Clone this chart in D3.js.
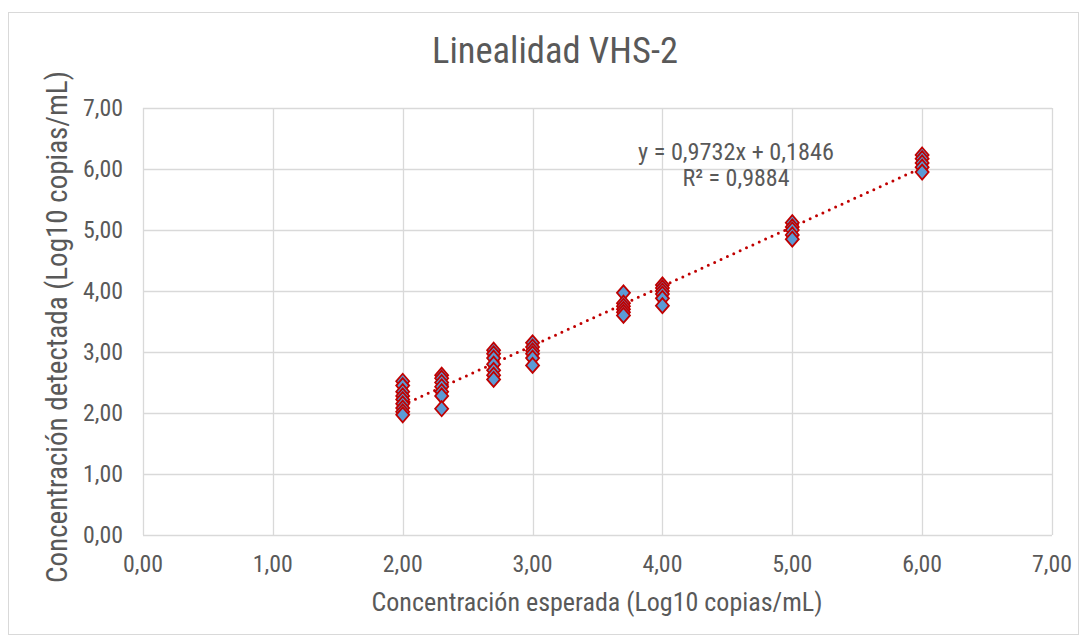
<!DOCTYPE html>
<html><head><meta charset="utf-8">
<script src="https://cdn.jsdelivr.net/npm/d3@7"></script>
<style>body{margin:0;background:#fff;} svg{display:block;} text{font-family:"Liberation Sans Narrow","Arial Narrow","Roboto Condensed",sans-serif;}</style>
</head><body><svg id="c" width="1088" height="641"></svg>
<script>
const title = "Linealidad VHS-2";
const xLabel = "Concentración esperada (Log10 copias/mL)";
const yLabel = "Concentración detectada (Log10 copias/mL)";
const xTicks = [0,1,2,3,4,5,6,7];
const yTicks = [0,1,2,3,4,5,6,7];
const groupX = [2.0, 2.3, 2.7, 3.0, 3.7, 4.0, 5.0, 6.0];
const groupY = [
  [2.52, 2.45, 2.35, 2.28, 2.22, 2.15, 2.08, 2.02, 1.97],
  [2.62, 2.57, 2.50, 2.43, 2.35, 2.28, 2.07],
  [3.03, 2.97, 2.90, 2.80, 2.70, 2.62, 2.55],
  [3.15, 3.08, 3.02, 2.97, 2.90, 2.78],
  [3.97, 3.80, 3.75, 3.70, 3.65, 3.60],
  [4.10, 4.05, 4.00, 3.95, 3.88, 3.76],
  [5.12, 5.05, 5.00, 4.92, 4.85],
  [6.23, 6.17, 6.10, 6.03, 5.95]
];
const slope = 0.9732, intercept = 0.1846;
const eqText = "y = 0,9732x + 0,1846";
const r2Text = "R² = 0,9884";

const points = [];
groupX.forEach((x,i)=>groupY[i].forEach(y=>points.push({x,y})));

const svg = d3.select("#c");
const fmt = d => d.toFixed(2).replace(".", ",");
function fit(sel, w){ sel.each(function(){ const n=this; const fs=+n.getAttribute("font-size"); const L=n.getComputedTextLength(); if(L>0) n.setAttribute("font-size", (fs*w/L).toFixed(2)); }); }

svg.append("rect").attr("x",8.5).attr("y",12.5).attr("width",1070).attr("height",622)
  .attr("fill","#fff").attr("stroke","#d9d9d9");

const x = d3.scaleLinear().domain([0,7]).range([143,1052]);
const y = d3.scaleLinear().domain([0,7]).range([535,108]);

const g = svg.append("g");
g.selectAll(".vg").data(xTicks).join("line").attr("x1",d=>Math.round(x(d))+0.5).attr("x2",d=>Math.round(x(d))+0.5)
  .attr("y1",y(0)).attr("y2",y(7)).attr("stroke","#d9d9d9").attr("stroke-width",1.3);
g.selectAll(".hg").data(yTicks).join("line").attr("y1",d=>Math.round(y(d))+0.5).attr("y2",d=>Math.round(y(d))+0.5)
  .attr("x1",x(0)).attr("x2",x(7)).attr("stroke","#d9d9d9").attr("stroke-width",1.3);

const xt = svg.selectAll(".xt").data(xTicks).join("text").attr("x",d=>x(d)).attr("y",y(0)+37)
  .attr("text-anchor","middle").attr("font-size",24).attr("fill","#595959").text(fmt);
const yt = svg.selectAll(".yt").data(yTicks).join("text").attr("x",x(0)-20).attr("y",d=>y(d)+8)
  .attr("text-anchor","end").attr("font-size",24).attr("fill","#595959").text(fmt);
fit(xt, 40); fit(yt, 40);

const xmin = d3.min(groupX), xmax = d3.max(groupX);
svg.append("line").attr("x1",x(xmin)).attr("y1",y(slope*xmin+intercept))
  .attr("x2",x(xmax)).attr("y2",y(slope*xmax+intercept))
  .attr("stroke","#C00000").attr("stroke-width",3).attr("stroke-dasharray","0 7").attr("stroke-linecap","round");

const diamond = {draw(ctx, s){ const w=6.5, h=7.5; ctx.moveTo(0,-h); ctx.lineTo(w,0); ctx.lineTo(0,h); ctx.lineTo(-w,0); ctx.closePath(); }};
const sym = d3.symbol().type(diamond);
svg.selectAll(".pt").data(points).join("path").attr("d",sym)
  .attr("transform",d=>`translate(${x(d.x)},${y(d.y)})`)
  .attr("fill","#5B9BD5").attr("stroke","#C00000").attr("stroke-width",1.8);

const t = svg.append("text").attr("x",555).attr("y",63).attr("text-anchor","middle").attr("font-size",35).attr("fill","#595959").text(title);
fit(t, 246);
const xl = svg.append("text").attr("x",597).attr("y",611).attr("text-anchor","middle").attr("font-size",24).attr("fill","#595959").text(xLabel);
fit(xl, 451);
const yl = svg.append("text").attr("transform","translate(67,327) rotate(-90)").attr("text-anchor","middle").attr("font-size",24).attr("fill","#595959").text(yLabel);
fit(yl, 512);
const eq = svg.append("text").attr("x",736).attr("y",160).attr("text-anchor","middle").attr("font-size",22).attr("fill","#595959").text(eqText);
fit(eq, 196);
const r2 = svg.append("text").attr("x",736).attr("y",186).attr("text-anchor","middle").attr("font-size",22).attr("fill","#595959").text(r2Text);
fit(r2, 107);
</script></body></html>
